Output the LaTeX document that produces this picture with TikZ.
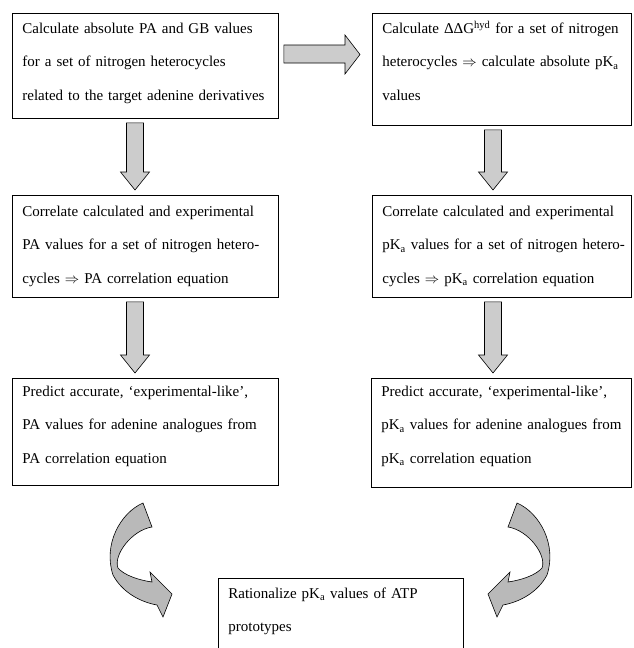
\documentclass[tikz,border=0pt]{standalone}
\usepackage{fontspec}
\setmainfont{Liberation Serif}
\usetikzlibrary{calc}
\newcommand\vbarrow[3]{%
  \draw[blockarrow] let \p1=(#2.south), \p2=(#3.north) in
    (#1pt-8.5pt,\y1-4pt) -- (#1pt+8.5pt,\y1-4pt) -- (#1pt+8.5pt,\y2+23pt)
    -- (#1pt+14.5pt,\y2+23pt) -- (#1pt,\y2+5pt) -- (#1pt-14.5pt,\y2+23pt)
    -- (#1pt-8.5pt,\y2+23pt) -- cycle;}
\newcommand\topstrut[1]{\rule{0pt}{#1pt}}
\newcommand\botstrut[1]{\rule[-#1pt]{0pt}{#1pt}}
\newcommand\oneline[1]{\mbox{#1}}
\begin{document}
\begin{tikzpicture}[x=1pt,y=-1pt,
  box/.style={draw, line width=0.8pt, anchor=north west, align=left,
    inner xsep=10pt, inner ysep=0pt, font=\fontsize{15}{33.5}\selectfont},
  blockarrow/.style={draw=black, line width=0.6pt, fill=gray!40, line join=miter},
  curvearrow/.style={draw=black, line width=0.6pt, fill=gray!55, line join=miter}]
\useasboundingbox (0,0) rectangle (634,648);

\node[box, text width=246pt] (b1) at (12,13)
 {\topstrut{20}\oneline{Calculate absolute PA and GB values}\\
  \oneline{for a set of nitrogen heterocycles}\\
  \oneline{related to the target adenine derivatives}\botstrut{18}};
\node[box, text width=239pt] (b2) at (372,13)
 {\topstrut{20}\oneline{Calculate ΔΔG\textsuperscript{hyd} for a set of nitrogen}\\
  \oneline{heterocycles $\Rightarrow$ calculate absolute pK\textsubscript{a}}\\
  \oneline{values}\botstrut{25}};
\node[box, text width=246pt] (b3) at (12,195)
 {\topstrut{21}\oneline{Correlate calculated and experimental}\\
  \oneline{PA values for a set of nitrogen hetero-}\\
  \oneline{cycles $\Rightarrow$ PA correlation equation}\botstrut{14}};
\node[box, text width=239pt] (b4) at (372,195)
 {\topstrut{21}\oneline{Correlate calculated and experimental}\\
  \oneline{pK\textsubscript{a} values for a set of nitrogen hetero-}\\
  \oneline{cycles $\Rightarrow$ pK\textsubscript{a} correlation equation}\botstrut{14}};
\node[box, text width=246pt] (b5) at (12,378)
 {\topstrut{18}\oneline{Predict accurate, ‘experimental-like’,}\\
  \oneline{PA values for adenine analogues from}\\
  \oneline{PA correlation equation}\botstrut{22}};
\node[box, text width=240pt] (b6) at (371,378)
 {\topstrut{18}\oneline{Predict accurate, ‘experimental-like’,}\\
  \oneline{pK\textsubscript{a} values for adenine analogues from}\\
  \oneline{pK\textsubscript{a} correlation equation}\botstrut{24}};
\node[box, text width=225pt] (b7) at (218,578)
 {\topstrut{20}\oneline{Rationalize pK\textsubscript{a} values of ATP}\\
  \oneline{prototypes}\botstrut{40}};

% straight block arrows
\draw[blockarrow] let \p1=(b1.east), \p2=(b2.west) in
  (\x1+5pt,-45pt) -- (\x2-27pt,-45pt) -- (\x2-27pt,-35pt) -- (\x2-12pt,-54.5pt)
  -- (\x2-27pt,-74pt) -- (\x2-27pt,-63pt) -- (\x1+5pt,-63pt) -- cycle;
\vbarrow{135}{b1}{b3}
\vbarrow{135}{b3}{b5}
\vbarrow{493}{b2}{b4}
\vbarrow{493}{b4}{b6}

% curved arrows
\draw[curvearrow] (143,503) .. controls (120,513) and (103,545) .. (113,575)
  .. controls (122,592) and (140,602) .. (157,605)
  -- (163,617) -- (172,594) -- (150,572) -- (152,582)
  .. controls (138,580) and (124,575) .. (118,568)
  .. controls (113,555) and (132,530) .. (152,527) -- cycle;
\begin{scope}[xshift=660pt, xscale=-1]
\draw[curvearrow] (143,503) .. controls (120,513) and (103,545) .. (113,575)
  .. controls (122,592) and (140,602) .. (157,605)
  -- (163,617) -- (172,594) -- (150,572) -- (152,582)
  .. controls (138,580) and (124,575) .. (118,568)
  .. controls (113,555) and (132,530) .. (152,527) -- cycle;
\end{scope}
\end{tikzpicture}
\end{document}
